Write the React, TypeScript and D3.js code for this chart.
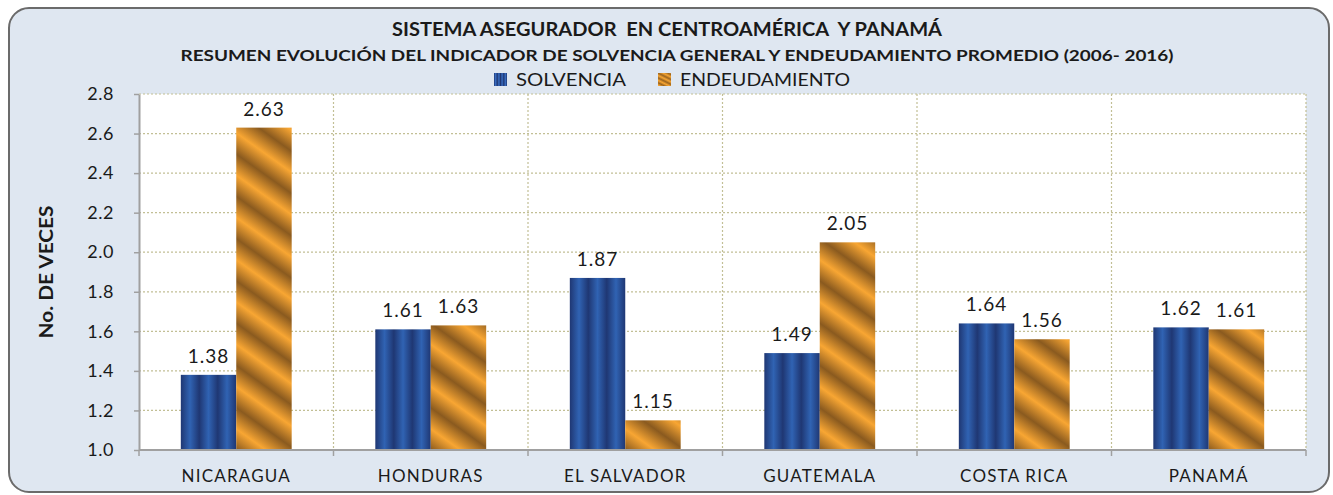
import React, { useEffect, useRef } from 'react';
import * as d3 from 'd3';

const categories = ['NICARAGUA', 'HONDURAS', 'EL SALVADOR', 'GUATEMALA', 'COSTA RICA', 'PANAMÁ'];
const solvencia = [1.38, 1.61, 1.87, 1.49, 1.64, 1.62];
const endeudamiento = [2.63, 1.63, 1.15, 2.05, 1.56, 1.61];
const yTicks = [1.0, 1.2, 1.4, 1.6, 1.8, 2.0, 2.2, 2.4, 2.6, 2.8];
const seriesNames = ['SOLVENCIA', 'ENDEUDAMIENTO'];

const FONT = 'Lato, "Open Sans", sans-serif';

const App = () => {
    const ref = useRef<SVGSVGElement | null>(null);

    useEffect(() => {
        const svg = d3.select(ref.current);
        svg.selectAll('*').remove();

        const margin = { top: 94, left: 139, right: 1306, bottom: 450 };

        const defs = svg.append('defs');
        const blue = defs.append('linearGradient')
            .attr('id', 'gBlue')
            .attr('x1', 0).attr('y1', 0).attr('x2', 1 / 3).attr('y2', 0)
            .attr('spreadMethod', 'repeat');
        blue.append('stop').attr('offset', '0%').attr('stop-color', '#1f3773');
        blue.append('stop').attr('offset', '50%').attr('stop-color', '#3063b3');
        blue.append('stop').attr('offset', '100%').attr('stop-color', '#1f3773');

        const orange = defs.append('linearGradient')
            .attr('id', 'gOrange')
            .attr('gradientUnits', 'userSpaceOnUse')
            .attr('x1', 0).attr('y1', 0).attr('x2', -20).attr('y2', 28)
            .attr('spreadMethod', 'repeat');
        orange.append('stop').attr('offset', '0%').attr('stop-color', '#8a5a1f');
        orange.append('stop').attr('offset', '50%').attr('stop-color', '#f8a633');
        orange.append('stop').attr('offset', '100%').attr('stop-color', '#8a5a1f');

        const legBlue = defs.append('linearGradient')
            .attr('id', 'gBlueLeg')
            .attr('x1', 0).attr('y1', 0).attr('x2', 0.25).attr('y2', 0)
            .attr('spreadMethod', 'repeat');
        legBlue.append('stop').attr('offset', '0%').attr('stop-color', '#1f3773');
        legBlue.append('stop').attr('offset', '50%').attr('stop-color', '#3a6fc4');
        legBlue.append('stop').attr('offset', '100%').attr('stop-color', '#1f3773');

        const legOrange = defs.append('linearGradient')
            .attr('id', 'gOrangeLeg')
            .attr('x1', 0).attr('y1', 0).attr('x2', -0.15).attr('y2', 0.3)
            .attr('spreadMethod', 'repeat');
        legOrange.append('stop').attr('offset', '0%').attr('stop-color', '#9a641f');
        legOrange.append('stop').attr('offset', '50%').attr('stop-color', '#f8a633');
        legOrange.append('stop').attr('offset', '100%').attr('stop-color', '#9a641f');

        // outer frame
        svg.append('rect')
            .attr('x', 9).attr('y', 8).attr('width', 1320).attr('height', 484)
            .attr('rx', 20).attr('ry', 20)
            .attr('fill', '#dfe7f1')
            .attr('stroke', '#6b6b6b')
            .attr('stroke-width', 2);

        svg.append('rect')
            .attr('x', margin.left).attr('y', margin.top)
            .attr('width', margin.right - margin.left)
            .attr('height', margin.bottom - margin.top)
            .attr('fill', '#ffffff');

        const x0 = d3.scaleBand()
            .domain(categories)
            .range([margin.left, margin.right])
            .padding(0);
        const bw = x0.bandwidth();
        const x1 = d3.scaleBand()
            .domain(seriesNames)
            .range([bw * 0.215, bw * 0.785])
            .padding(0);
        const y = d3.scaleLinear()
            .domain([1.0, 2.8])
            .range([margin.bottom, margin.top]);

        // grid
        svg.append('g')
            .selectAll('line')
            .data(yTicks.slice(1))
            .join('line')
            .attr('x1', margin.left).attr('x2', margin.right)
            .attr('y1', d => y(d)).attr('y2', d => y(d))
            .attr('stroke', '#c2bf95')
            .attr('stroke-width', 1.2)
            .attr('stroke-dasharray', '2,2');

        svg.append('g')
            .selectAll('line')
            .data(categories)
            .join('line')
            .attr('x1', d => (x0(d) as number) + bw).attr('x2', d => (x0(d) as number) + bw)
            .attr('y1', margin.top).attr('y2', margin.bottom)
            .attr('stroke', '#c2bf95')
            .attr('stroke-width', 1.2)
            .attr('stroke-dasharray', '2,2');

        // bars
        const groups = svg.append('g')
            .selectAll('g')
            .data(categories)
            .join('g')
            .attr('transform', d => `translate(${x0(d)},0)`);

        const rows = (i: number) => [
            { key: 'SOLVENCIA', value: solvencia[i], fill: 'url(#gBlue)' },
            { key: 'ENDEUDAMIENTO', value: endeudamiento[i], fill: 'url(#gOrange)' },
        ];

        groups.selectAll('rect')
            .data((d, i) => rows(i))
            .join('rect')
            .attr('x', d => x1(d.key) as number)
            .attr('width', x1.bandwidth())
            .attr('y', d => y(d.value))
            .attr('height', d => y(1.0) - y(d.value))
            .attr('fill', d => d.fill);

        groups.selectAll('text')
            .data((d, i) => rows(i))
            .join('text')
            .attr('x', d => (x1(d.key) as number) + x1.bandwidth() / 2)
            .attr('y', d => y(d.value) - 12)
            .attr('text-anchor', 'middle')
            .style('font-family', FONT)
            .style('font-size', '19px')
            .style('letter-spacing', '1px')
            .style('fill', '#1a1a1a')
            .text(d => d.value.toFixed(2));

        // y axis
        const yAxis = svg.append('g')
            .attr('transform', `translate(${margin.left},0)`)
            .call(d3.axisLeft(y).tickValues(yTicks).tickFormat(d3.format('.1f')).tickSize(5).tickPadding(20).tickSizeOuter(0));
        yAxis.select('.domain').attr('stroke', '#a0a0a0').attr('stroke-width', 2);
        yAxis.selectAll('.tick line').attr('stroke', '#a0a0a0').attr('stroke-width', 1.5);
        yAxis.selectAll('.tick text')
            .style('font-family', FONT)
            .style('font-size', '18px')
            .style('letter-spacing', '0.5px')
            .style('fill', '#1a1a1a');

        // x axis
        const xAxis = svg.append('g')
            .attr('transform', `translate(0,${margin.bottom})`);
        xAxis.append('line')
            .attr('x1', margin.left).attr('x2', margin.right)
            .attr('y1', 0).attr('y2', 0)
            .attr('stroke', '#a0a0a0').attr('stroke-width', 2);
        xAxis.selectAll('line.tk')
            .data([categories[0], ...categories])
            .join('line')
            .attr('class', 'tk')
            .attr('x1', (d, i) => (i === 0 ? margin.left : (x0(d) as number) + bw))
            .attr('x2', (d, i) => (i === 0 ? margin.left : (x0(d) as number) + bw))
            .attr('y1', 0).attr('y2', 6)
            .attr('stroke', '#a0a0a0').attr('stroke-width', 1.5);
        xAxis.selectAll('text')
            .data(categories)
            .join('text')
            .attr('x', d => (x0(d) as number) + bw / 2)
            .attr('y', 32)
            .attr('text-anchor', 'middle')
            .style('font-family', FONT)
            .style('font-size', '17px')
            .style('letter-spacing', '1.2px')
            .style('fill', '#1a1a1a')
            .text(d => d);

        // y title
        svg.append('text')
            .attr('transform', 'translate(53,272) rotate(-90)')
            .attr('text-anchor', 'middle')
            .attr('textLength', 133)
            .attr('lengthAdjust', 'spacingAndGlyphs')
            .style('font-family', FONT)
            .style('font-size', '19px')
            .style('font-weight', 'bold')
            .style('fill', '#1a1a1a')
            .text('No. DE VECES');

        // titles
        svg.append('text')
            .attr('x', 667).attr('y', 36)
            .attr('text-anchor', 'middle')
            .attr('textLength', 550)
            .attr('lengthAdjust', 'spacingAndGlyphs')
            .style('font-family', FONT)
            .style('font-size', '18px')
            .style('font-weight', 'bold')
            .style('fill', '#1a1a1a')
            .style('white-space', 'pre')
            .text('SISTEMA ASEGURADOR  EN CENTROAMÉRICA  Y PANAMÁ');

        svg.append('text')
            .attr('x', 677).attr('y', 61)
            .attr('text-anchor', 'middle')
            .attr('textLength', 993)
            .attr('lengthAdjust', 'spacingAndGlyphs')
            .style('font-family', FONT)
            .style('font-size', '16px')
            .style('font-weight', 'bold')
            .style('fill', '#1a1a1a')
            .text('RESUMEN EVOLUCIÓN DEL INDICADOR DE SOLVENCIA GENERAL Y ENDEUDAMIENTO PROMEDIO (2006- 2016)');

        // legend
        const legend = [
            { name: 'SOLVENCIA', fill: 'url(#gBlueLeg)', x: 494, w: 110 },
            { name: 'ENDEUDAMIENTO', fill: 'url(#gOrangeLeg)', x: 658, w: 170 },
        ];
        const lg = svg.append('g');
        lg.selectAll('rect')
            .data(legend)
            .join('rect')
            .attr('x', d => d.x).attr('y', 73)
            .attr('width', 13).attr('height', 13)
            .attr('fill', d => d.fill);
        lg.selectAll('text')
            .data(legend)
            .join('text')
            .attr('x', d => d.x + 22).attr('y', 86)
            .attr('textLength', d => d.w)
            .attr('lengthAdjust', 'spacingAndGlyphs')
            .style('font-family', FONT)
            .style('font-size', '18px')
            .style('fill', '#1a1a1a')
            .text(d => d.name);
    }, []);

    return (
        <svg
            ref={ref}
            width={1333}
            height={495}
            style={{ position: 'absolute', left: 0, top: 0, background: '#ffffff' }}
        />
    );
};

export default App;
